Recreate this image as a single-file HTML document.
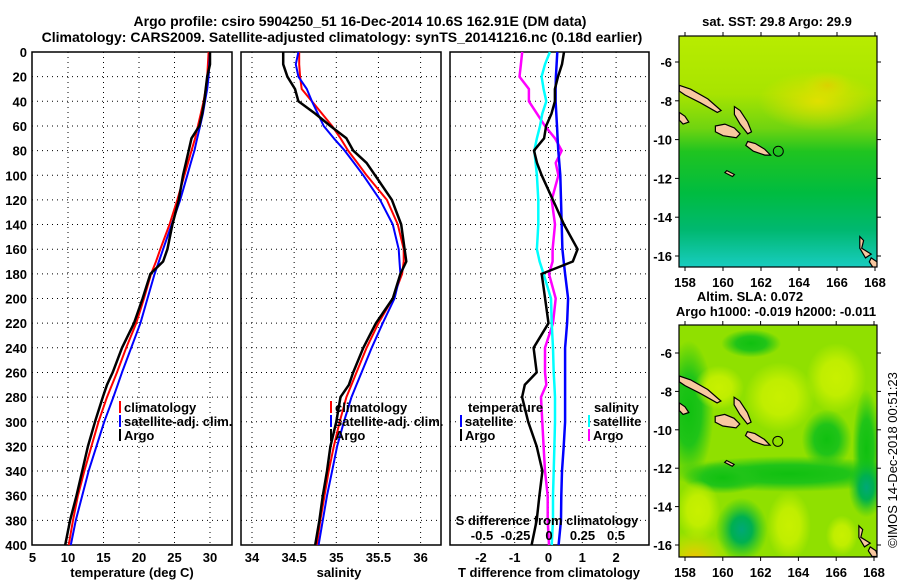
<!DOCTYPE html>
<html><head><meta charset="utf-8"><style>
body{margin:0;background:#fff;}
svg text{font-family:"Liberation Sans",sans-serif;font-weight:bold;fill:#000;}
svg text.nb{font-weight:normal;}
</style></head><body>
<svg id="c" width="900" height="580" viewBox="0 0 900 580" xmlns="http://www.w3.org/2000/svg">
<defs>
<linearGradient id="sstg" x1="0" y1="0" x2="0" y2="1">
<stop offset="0" stop-color="#b8ec00"/><stop offset="0.25" stop-color="#a8e400"/>
<stop offset="0.40" stop-color="#70d410"/><stop offset="0.50" stop-color="#20c420"/>
<stop offset="0.68" stop-color="#00bc40"/><stop offset="0.84" stop-color="#00b870"/>
<stop offset="1" stop-color="#18ccc0"/></linearGradient>
<radialGradient id="ylw"><stop offset="0" stop-color="#e0e000"/><stop offset="1" stop-color="#e0e000" stop-opacity="0"/></radialGradient>
<radialGradient id="yg"><stop offset="0" stop-color="#c8f000"/><stop offset="0.5" stop-color="#c0ee00"/><stop offset="1" stop-color="#c0ee00" stop-opacity="0"/></radialGradient>
<radialGradient id="gr"><stop offset="0" stop-color="#10c010"/><stop offset="0.5" stop-color="#20c418"/><stop offset="1" stop-color="#20c418" stop-opacity="0"/></radialGradient>
<radialGradient id="tl"><stop offset="0" stop-color="#00a878"/><stop offset="0.4" stop-color="#00b050"/><stop offset="1" stop-color="#10c020" stop-opacity="0"/></radialGradient>
<radialGradient id="or"><stop offset="0" stop-color="#f0c000"/><stop offset="1" stop-color="#e8e800" stop-opacity="0"/></radialGradient>
<clipPath id="m1c"><rect x="679" y="36" width="198" height="231"/></clipPath>
<clipPath id="m2c"><rect x="679" y="325" width="198" height="232"/></clipPath>
</defs>
<g id="g"></g>
</svg>
<script>
// ---- data ----
const depth = [0,10,20,30,40,50,60,70,80,90,100,120,140,160,170,180,200,220,240,260,270,280,300,320,340,360,380,400];
const tempArgo = [30.0,30.0,29.6,29.4,29.2,28.9,28.5,27.4,27.0,26.6,26.2,25.6,24.7,24.0,23.4,21.6,20.5,19.3,17.6,16.3,15.5,14.9,13.8,12.8,12.0,11.2,10.3,9.6];
const tempClim = [29.8,29.7,29.6,29.4,29.1,28.7,28.3,27.9,27.4,26.9,26.4,25.4,24.3,23.0,22.4,21.7,20.7,19.6,18.2,16.9,16.2,15.5,14.3,13.3,12.3,11.4,10.7,10.1];
const tempSat = [30.0,29.9,29.8,29.6,29.3,29.0,28.6,28.2,27.8,27.3,26.8,25.8,24.6,23.4,22.8,22.2,21.2,20.2,18.9,17.6,17.0,16.4,15.1,14.0,12.9,12.0,11.1,10.4];
const salArgo = [34.37,34.37,34.42,34.51,34.55,34.75,34.93,35.12,35.20,35.36,35.46,35.66,35.77,35.81,35.83,35.76,35.67,35.47,35.32,35.20,35.15,35.05,35.0,34.93,34.89,34.84,34.80,34.75];
const salClim = [34.56,34.56,34.57,34.59,34.71,34.83,34.95,35.05,35.14,35.25,35.36,35.60,35.73,35.80,35.80,35.78,35.67,35.50,35.36,35.24,35.18,35.12,35.04,34.97,34.91,34.86,34.81,34.77];
const salSat = [34.55,34.52,34.55,34.65,34.71,34.78,34.85,34.97,35.10,35.21,35.32,35.52,35.67,35.74,35.75,35.76,35.69,35.55,35.42,35.30,35.24,35.18,35.09,35.01,34.95,34.89,34.84,34.79];
const dTSat = [0.26,0.24,0.22,0.21,0.21,0.23,0.25,0.27,0.29,0.32,0.35,0.37,0.39,0.41,0.45,0.49,0.58,0.55,0.49,0.49,0.49,0.49,0.49,0.45,0.40,0.38,0.37,0.30];
const dTArgo = [0.46,0.40,0.28,0.19,0.19,0.09,-0.07,-0.13,-0.43,-0.34,-0.2,0.13,0.46,0.86,0.72,-0.2,-0.1,0.0,-0.44,-0.35,-0.7,-0.78,-0.6,-0.35,-0.18,-0.27,-0.35,-0.5];
const dSSat = [0.007,-0.03,-0.055,-0.04,-0.02,-0.05,-0.067,-0.09,-0.11,-0.10,-0.09,-0.08,-0.08,-0.09,-0.07,-0.04,0.015,0.02,0.03,0.035,0.04,0.045,0.045,0.04,0.035,0.03,0.03,0.02];
const dSArgo = [-0.2,-0.21,-0.22,-0.15,-0.15,-0.09,-0.03,0.045,0.095,0.05,0.07,0.02,0.045,0.027,0.027,0.0,0.05,0.03,-0.03,-0.03,-0.02,-0.06,-0.05,-0.04,-0.03,-0.01,-0.01,0.0];
const depthTicks = [0,20,40,60,80,100,120,140,160,180,200,220,240,260,280,300,320,340,360,380,400];
const tTicks = [5,10,15,20,25,30];
const sTicks = [34,34.5,35,35.5,36];
const dTTicks = [-2,-1,0,1,2];
const dSTicks = [-0.5,-0.25,0,0.25,0.5];
const lonTicks = [158,160,162,164,166,168];
const latTicks = [-6,-8,-10,-12,-14,-16];
const argoPos = [162.91,-10.6];
const islands = [
 [[157.7,-7.2],[158.3,-7.4],[159.2,-7.9],[159.9,-8.5],[159.7,-8.6],[158.8,-8.1],[158.0,-7.7],[157.7,-7.5]],
 [[160.6,-8.3],[160.9,-8.5],[161.3,-9.1],[161.5,-9.6],[161.3,-9.7],[160.9,-9.2],[160.6,-8.7]],
 [[159.6,-9.3],[160.1,-9.2],[160.6,-9.4],[160.9,-9.7],[160.7,-9.9],[160.0,-9.8],[159.6,-9.6]],
 [[161.3,-10.1],[161.7,-10.2],[162.2,-10.5],[162.5,-10.8],[162.2,-10.8],[161.6,-10.6],[161.2,-10.3]],
 [[157.7,-8.6],[158.0,-8.8],[158.2,-9.1],[157.9,-9.2],[157.7,-9.0]],
 [[167.2,-15.0],[167.4,-15.2],[167.3,-15.6],[167.8,-15.9],[167.5,-16.1],[167.2,-15.6]],
 [[167.8,-16.1],[168.1,-16.3],[168.2,-16.6],[167.9,-16.6],[167.7,-16.3]],
 [[160.2,-11.6],[160.6,-11.8],[160.5,-11.9],[160.1,-11.7]]
];
// ---- helpers ----
const NS="http://www.w3.org/2000/svg";
const root=document.getElementById('g');
function mk(tag,attrs,parent){const e=document.createElementNS(NS,tag);for(const k in attrs)e.setAttribute(k,attrs[k]);(parent||root).appendChild(e);return e;}
function txt(x,y,s,anchor,size,parent){const t=mk('text',{x:x,y:y,'text-anchor':anchor||'start','font-size':size||13},parent);t.textContent=s;return t;}
const Y0=52,Y1=545;
const yD=d=>Y0+(d/400)*(Y1-Y0);
const xT=v=>32.5+(v-5)*7.1;
const xS=v=>252+(v-34)*84.3;
const xDT=v=>548.5+v*33.8;
const xDS=v=>549+v*134;
function panel(name,x0,x1,xf,ticks,labels,grid){
  const g=mk('g',{});
  
  
  mk('rect',{x:x0,y:Y0,width:x1-x0,height:Y1-Y0,fill:'#fff',stroke:'#000','stroke-width':1.5},g);
  depthTicks.forEach(d=>{if(d>0&&d<400)mk('line',{x1:x0,x2:x1,y1:yD(d),y2:yD(d),stroke:'#000','stroke-dasharray':'1 4'},g);});
  grid.forEach(v=>mk('line',{x1:xf(v),x2:xf(v),y1:Y0,y2:Y1,stroke:'#000','stroke-dasharray':'1 4'},g));
  if(labels)ticks.forEach(v=>txt(xf(v),562,String(v),'middle',13,g));
  return g;
}
function line(name,xs,xf,color,w,g){
  const p=mk('polyline',{points:xs.map((v,i)=>xf(v).toFixed(1)+','+yD(depth[i]).toFixed(1)).join(' '),fill:'none',stroke:color,'stroke-width':w,'stroke-linejoin':'round'},g);
  
  
}
// titles
let t=txt(360,26,'Argo profile: csiro 5904250_51 16-Dec-2014 10.6S 162.91E (DM data)','middle',14);

t=txt(342,42,'Climatology: CARS2009. Satellite-adjusted climatology: synTS_20141216.nc (0.18d earlier)','middle',14);

depthTicks.forEach(d=>{const e=txt(27,yD(d)+5,String(d),'end',13);});
// panel 1
const p1=panel('temperature-panel',32,232,xT,tTicks,true,[10,15,20,25,30]);
line('temp-climatology',tempClim,xT,'#f00',2,p1);
line('temp-satellite',tempSat,xT,'#00f',2,p1);
line('temp-argo',tempArgo,xT,'#000',2.5,p1);
t=txt(132,577,'temperature (deg C)','middle',13);
// panel 2
const p2=panel('salinity-panel',241,441,xS,sTicks,true,[34,34.5,35,35.5,36]);
line('sal-climatology',salClim,xS,'#f00',2,p2);
line('sal-satellite',salSat,xS,'#00f',2,p2);
line('sal-argo',salArgo,xS,'#000',2.5,p2);
t=txt(339,577,'salinity','middle',13);
// panel 3
const p3=panel('difference-panel',450,649,xDT,dTTicks,true,[-2,-1,0,1,2]);
line('dS-argo',dSArgo,xDS,'#f0f',2.5,p3);
line('dS-satellite',dSSat,xDS,'#0ff',2.5,p3);
line('dT-satellite',dTSat,xDT,'#00f',2.5,p3);
line('dT-argo',dTArgo,xDT,'#000',2.5,p3);
t=txt(549,577,'T difference from climatology','middle',13);
t=txt(547,525,'S difference from climatology','middle',13);
dSTicks.forEach(v=>{const e=txt(xDS(v),540,String(v),'middle',13);});
// legends
function leg(name,x,y,color,label){
  const g=mk('g',{});
  if(color)mk('rect',{x:x,y:y-11,width:2,height:12,fill:color},g);
  txt(x+(color?5:0),y,label,'start',13,g);
}
leg('legend-climatology',119,412,'#f00','climatology');
leg('legend-satellite-adj',119,426,'#00f','satellite-adj. clim.');
leg('legend-argo',119,440,'#000','Argo');
leg('legend2-climatology',330,412,'#f00','climatology');
leg('legend2-satellite-adj',330,426,'#00f','satellite-adj. clim.');
leg('legend2-argo',330,440,'#000','Argo');
leg('legend-temperature-header',468,412,null,'temperature');
leg('legend-t-satellite',460,426,'#00f','satellite');
leg('legend-t-argo',460,440,'#000','Argo');
leg('legend-salinity-header',594,412,null,'salinity');
leg('legend-s-satellite',588,426,'#0ff','satellite');
leg('legend-s-argo',588,440,'#f0f','Argo');
// maps
function map(name,x0,y0,w,h,lon0,lon1,latA,yA,latB,yB,fill,clip){
  const g=mk('g',{});
  const xl=lo=>lon0+(lo-158)*(lon1-lon0)/10;
  const yl=la=>yA+(latA-la)*(yB-yA)/(latA-latB);
  const inner=mk('g',{'clip-path':'url(#'+clip+')'},g);
  fill(inner,xl,yl);
  islands.forEach(poly=>{const p=mk('polygon',{points:poly.map(q=>xl(q[0]).toFixed(1)+','+yl(q[1]).toFixed(1)).join(' '),fill:'#f8c8a0',stroke:'#000','stroke-width':1.2},inner);});
  const c=mk('circle',{cx:xl(argoPos[0]),cy:yl(argoPos[1]),r:5,fill:'none',stroke:'#000','stroke-width':1},g);
  
  mk('rect',{x:x0,y:y0,width:w,height:h,fill:'none',stroke:'#000','stroke-width':1.2},g);
  lonTicks.forEach(v=>{mk('line',{x1:xl(v),x2:xl(v),y1:y0+h,y2:y0+h+4,stroke:'#000'},g);mk('line',{x1:xl(v),x2:xl(v),y1:y0,y2:y0-4,stroke:'#000'},g);txt(xl(v),y0+h+20,String(v),'middle',13,g);});
  latTicks.forEach(v=>{mk('line',{x1:x0,x2:x0-4,y1:yl(v),y2:yl(v),stroke:'#000'},g);mk('line',{x1:x0+w,x2:x0+w+4,y1:yl(v),y2:yl(v),stroke:'#000'},g);txt(x0-7,yl(v)+5,String(v),'end',13,g);});
}
map('sst-map',679,36,198,231,685,875,-6,62,-16,256,(g,xl,yl)=>{
  mk('rect',{x:679,y:36,width:198,height:231,fill:'url(#sstg)'},g);
  mk('ellipse',{cx:xl(165),cy:yl(-8),rx:60,ry:30,fill:'url(#ylw)'},g);
  mk('ellipse',{cx:xl(165.5),cy:yl(-7.2),rx:25,ry:14,fill:'url(#or)',opacity:0.5},g);
},'m1c');
map('sla-map',679,325,198,232,685,874,-6,353,-16,545,(g,xl,yl)=>{
  mk('rect',{x:679,y:325,width:198,height:232,fill:'#90e000'},g);
  [[158.2,-9,25,70],[163.5,-12.3,120,18],[161.5,-5.5,30,14],[165.5,-10.5,25,30],[160,-12.5,40,16],[167.6,-11,14,60]].forEach(b=>mk('ellipse',{cx:xl(b[0]),cy:yl(b[1]),rx:b[2],ry:b[3],fill:'url(#gr)'},g));
  [[163,-8.3,35,35],[166,-7.3,30,35],[159.8,-7.8,25,22],[158.7,-14.2,22,30],[163.5,-15,22,35],[166.3,-15.5,16,20]].forEach(b=>mk('ellipse',{cx:xl(b[0]),cy:yl(b[1]),rx:b[2],ry:b[3],fill:'url(#yg)'},g));
  [[161,-15.2,26,32],[167.6,-13,18,30]].forEach(b=>mk('ellipse',{cx:xl(b[0]),cy:yl(b[1]),rx:b[2],ry:b[3],fill:'url(#tl)'},g));
  mk('ellipse',{cx:xl(158.5),cy:yl(-16.7),rx:35,ry:28,fill:'url(#or)'},g);
},'m2c');
t=txt(777,26,'sat. SST: 29.8 Argo: 29.9','middle',13);
t=txt(750,301,'Altim. SLA: 0.072','middle',13);
t=txt(776,316,'Argo h1000: -0.019 h2000: -0.011','middle',13);
t=txt(0,0,'©IMOS 14-Dec-2018 00:51:23','middle',13);
t.setAttribute('transform','translate(897,460) rotate(-90)');
t.setAttribute('class','nb');

</script>
</body></html>
